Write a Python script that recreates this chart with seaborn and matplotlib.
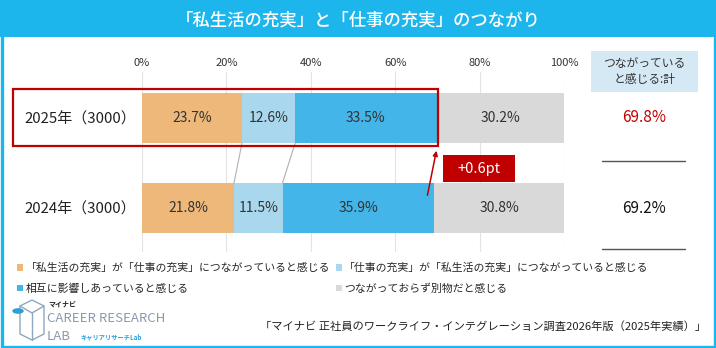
import matplotlib
matplotlib.use("Agg")
import matplotlib.pyplot as plt
from matplotlib.patches import Rectangle, Patch, Polygon, Circle
import seaborn as sns
import pandas as pd
import numpy as np

# ---------------- data ----------------
years = ["2025年（3000）", "2024年（3000）"]
series_names = [
    "「私生活の充実」が「仕事の充実」につながっていると感じる",
    "「仕事の充実」が「私生活の充実」につながっていると感じる",
    "相互に影響しあっていると感じる",
    "つながっておらず別物だと感じる",
]
v_private_to_work = [23.7, 21.8]
v_work_to_private = [12.6, 11.5]
v_mutual = [33.5, 35.9]
v_separate = [30.2, 30.8]
totals = [69.8, 69.2]
totals_labels = ["69.8%", "69.2%"]
diff_label = "+0.6pt"
x_ticks = [0, 20, 40, 60, 80, 100]
x_ticklabels = ["0%", "20%", "40%", "60%", "80%", "100%"]
colors = ["#EDB87A", "#A9D8EE", "#43B5E8", "#D9D9D9"]
title = "「私生活の充実」と「仕事の充実」のつながり"
header = "つながっている\nと感じる:計"
source = "「マイナビ 正社員のワークライフ・インテグレーション調査2026年版（2025年実績）」"

sns.set_theme(style="white")
plt.rcParams["font.family"] = ["Noto Sans CJK JP", "DejaVu Sans"]

W, H = 716, 348
fig = plt.figure(figsize=(W / 100, H / 100), dpi=100)
fig.patch.set_facecolor("white")


def fx(x):
    return x / W


def fy(y):
    return 1 - y / H


CYAN = "#1DB6EC"
RED = "#C00000"

# title band & border
fig.patches.append(Rectangle((0, fy(37)), 1, 1 - fy(37), transform=fig.transFigure,
                             facecolor=CYAN, edgecolor="none", zorder=0))
fig.patches.append(Rectangle((fx(1.5), fy(346.5)), fx(713), 1 - fy(345), transform=fig.transFigure,
                             facecolor="none", edgecolor=CYAN, lw=2.4, zorder=10))
fig.text(0.5, fy(20), title, ha="center", va="center", color="white",
         fontsize=12.5, fontweight="medium")

# ---------------- bar axes ----------------
ax = fig.add_axes([fx(142), fy(252), fx(564 - 142), fy(72) - fy(252)])
df = pd.DataFrame({
    "year": years,
    "s1": v_private_to_work,
    "s2": v_work_to_private,
    "s3": v_mutual,
    "s4": v_separate,
})
cols = ["s1", "s2", "s3", "s4"]
cum = df[cols].cumsum(axis=1)
bar_w = 50 / 90
for i in reversed(range(4)):
    sns.barplot(x=cum[cols[i]], y=df["year"], orient="h", color=colors[i],
                width=bar_w, saturation=1, ax=ax, order=years, linewidth=0)

# value labels
for r in range(len(years)):
    left = 0
    for c in cols:
        v = df.loc[r, c]
        ax.text(left + v / 2, r, f"{v:.1f}%", ha="center", va="center",
                fontsize=10, color="#333333")
        left += v

# connectors between rows
half = bar_w / 2
for c in ["s1", "s2"]:
    ax.plot([cum.loc[0, c], cum.loc[1, c]], [0 + half, 1 - half],
            color="#B0B0B0", lw=0.8, zorder=1)

ax.set_xlim(0, 100)
ax.set_ylim(1 + 44 / 90, -46 / 90)
ax.set_xticks(x_ticks)
ax.set_xticklabels(x_ticklabels)
ax.xaxis.tick_top()
ax.tick_params(axis="x", length=0, pad=3, labelsize=8, labelcolor="#333333")
ax.tick_params(axis="y", length=0, pad=4, labelsize=10.8, labelcolor="#222222")
ax.set_xlabel("")
ax.set_ylabel("")
ax.grid(axis="x", color="#E3E3E3", lw=0.8)
ax.grid(axis="y", visible=False)
ax.set_axisbelow(True)
for s in ax.spines.values():
    s.set_visible(False)
ax.patch.set_alpha(0)

# red highlight rectangle around 2025
px_per = (564 - 142) / 100
rx0 = (13 - 142) / px_per
ax.add_patch(Rectangle((rx0, (89 - 118) / 90), totals[0] + 0.3 - rx0, (146 - 89) / 90,
                       facecolor="none", edgecolor=RED, lw=1.6, clip_on=False, zorder=5))

# arrow
ax.annotate("", xy=(totals[0] + 0.1, (148 - 118) / 90), xytext=(totals[1] - 1.7, (198 - 118) / 90),
            arrowprops=dict(arrowstyle="-|>", color=RED, lw=1.1, mutation_scale=7),
            zorder=6, annotation_clip=False)

# +0.6pt box
bx0 = (443 - 142) / px_per
bx1 = (515 - 142) / px_per
ax.add_patch(Rectangle((bx0, (155 - 118) / 90), bx1 - bx0, (182 - 155) / 90,
                       facecolor=RED, edgecolor="none", clip_on=False, zorder=6))
ax.text((bx0 + bx1) / 2, (168.5 - 118) / 90, diff_label, ha="center", va="center",
        color="white", fontsize=10.5, zorder=7)

# ---------------- right column ----------------
fig.patches.append(Rectangle((fx(591), fy(92)), fx(107), fy(51) - fy(92), transform=fig.transFigure,
                             facecolor="#D5E9F5", edgecolor="none"))
fig.text(fx(644.5), fy(71.5), header, ha="center", va="center", fontsize=8.5,
         color="#333333", linespacing=1.25)
tot_colors = [RED, "#111111"]
for r in range(len(years)):
    yp = 118 + 90 * r
    fig.text(fx(644), fy(yp), totals_labels[r], ha="center", va="center",
             fontsize=11, color=tot_colors[r])
for yl in [161, 249]:
    fig.add_artist(plt.Line2D([fx(602), fx(685)], [fy(yl), fy(yl)], color="#555555",
                              lw=1.0, transform=fig.transFigure))

# ---------------- legend ----------------
handles = [Patch(facecolor=colors[i], edgecolor="none", label=series_names[i]) for i in range(4)]
order = [0, 2, 1, 3]
fig.legend([handles[i] for i in order], [series_names[i] for i in order],
           loc="upper left", bbox_to_anchor=(fx(17), fy(263)), ncol=2, frameon=False,
           fontsize=7.8, handlelength=0.55, handleheight=0.55, handletextpad=0.25,
           columnspacing=0.5, labelspacing=0.95, borderaxespad=0, borderpad=0)

# ---------------- logo ----------------
cube = Polygon([(fx(20), fy(306)), (fx(32), fy(300)), (fx(44), fy(306)), (fx(44), fy(334)),
                (fx(32), fy(340)), (fx(20), fy(334))], closed=True, transform=fig.transFigure,
               facecolor="none", edgecolor="#8FA8C0", lw=1.0)
fig.patches.append(cube)
fig.add_artist(plt.Line2D([fx(20), fx(32), fx(44)], [fy(306), fy(313), fy(306)],
                          color="#8FA8C0", lw=1.0, transform=fig.transFigure))
fig.add_artist(plt.Line2D([fx(32), fx(32)], [fy(313), fy(340)],
                          color="#8FA8C0", lw=1.0, transform=fig.transFigure))
fig.patches.append(Circle((fx(18), fy(311)), 0.008, transform=fig.transFigure,
                          facecolor="#2A9FD8", edgecolor="none"))
fig.text(fx(48), fy(304), "マイナビ", fontsize=5, fontweight="bold", color="#222222",
         ha="left", va="center")
fig.text(fx(47), fy(319), "CAREER RESEARCH", fontsize=9.5, color="#8A9AAE",
         ha="left", va="center")
fig.text(fx(47), fy(336), "LAB", fontsize=9.5, color="#8A9AAE", ha="left", va="center")
fig.text(fx(80), fy(336.5), "キャリアリサーチLab", fontsize=4.5, color="#2A9FD8",
         ha="left", va="center", fontweight="bold")

# ---------------- source ----------------
fig.text(fx(706), fy(327), source, ha="right", va="center", fontsize=8.1, color="#222222")

fig.savefig("out.png", dpi=100)
